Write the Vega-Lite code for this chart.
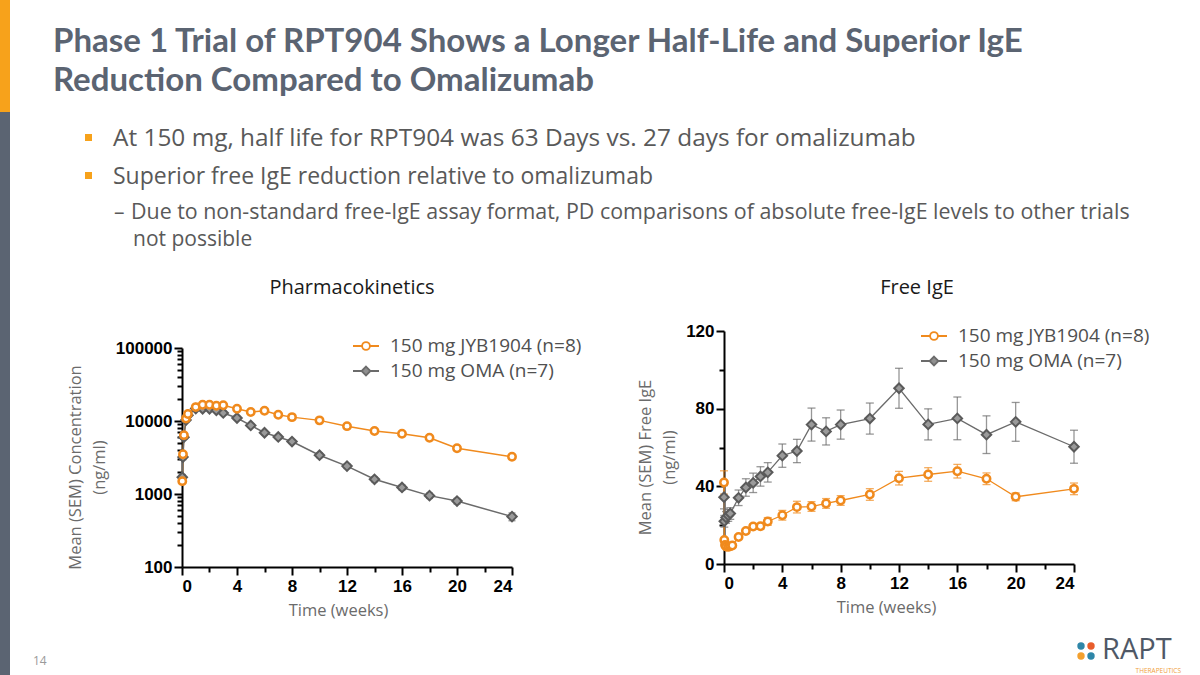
{
  "$schema": "https://vega.github.io/schema/vega-lite/v6.json",
  "width": 1200,
  "height": 675,
  "padding": 0,
  "autosize": {"type": "none"},
  "background": "white",
  "config": {
    "view": {"stroke": null},
    "font": "Open Sans",
    "axis": {
      "grid": false,
      "domainColor": "#000000",
      "domainWidth": 2,
      "tickColor": "#000000",
      "tickWidth": 2,
      "labelFont": "Liberation Sans",
      "labelFontWeight": "bold",
      "labelFontSize": 17,
      "labelColor": "#000000",
      "labelOverlap": false,
      "titleFont": "Open Sans",
      "titleFontWeight": "normal",
      "titleFontSize": 16.5,
      "titleColor": "#6b6b6b",
      "titleLineHeight": 24
    },
    "legend": {
      "orient": "none",
      "title": null,
      "labelFont": "Open Sans",
      "labelFontSize": 19,
      "labelColor": "#505050",
      "labelLimit": 400,
      "symbolSize": 676,
      "labelOffset": 10,
      "rowPadding": 1,
      "symbolStrokeWidth": 1.8
    }
  },
  "datasets": {
    "pk": [
      {"t": 0.02, "group": "150 mg JYB1904 (n=8)", "mean": 1500, "sem": 100},
      {"t": 0.07, "group": "150 mg JYB1904 (n=8)", "mean": 3500, "sem": 250},
      {"t": 0.14, "group": "150 mg JYB1904 (n=8)", "mean": 6400, "sem": 400},
      {"t": 0.29, "group": "150 mg JYB1904 (n=8)", "mean": 10800, "sem": 600},
      {"t": 0.43, "group": "150 mg JYB1904 (n=8)", "mean": 12500, "sem": 700},
      {"t": 1, "group": "150 mg JYB1904 (n=8)", "mean": 15500, "sem": 800},
      {"t": 1.5, "group": "150 mg JYB1904 (n=8)", "mean": 16700, "sem": 900},
      {"t": 2, "group": "150 mg JYB1904 (n=8)", "mean": 16700, "sem": 900},
      {"t": 2.5, "group": "150 mg JYB1904 (n=8)", "mean": 16200, "sem": 900},
      {"t": 3, "group": "150 mg JYB1904 (n=8)", "mean": 16400, "sem": 900},
      {"t": 4, "group": "150 mg JYB1904 (n=8)", "mean": 14700, "sem": 800},
      {"t": 5, "group": "150 mg JYB1904 (n=8)", "mean": 13300, "sem": 700},
      {"t": 6, "group": "150 mg JYB1904 (n=8)", "mean": 13800, "sem": 1100},
      {"t": 7, "group": "150 mg JYB1904 (n=8)", "mean": 12200, "sem": 700},
      {"t": 8, "group": "150 mg JYB1904 (n=8)", "mean": 11300, "sem": 600},
      {"t": 10, "group": "150 mg JYB1904 (n=8)", "mean": 10200, "sem": 600},
      {"t": 12, "group": "150 mg JYB1904 (n=8)", "mean": 8500, "sem": 500},
      {"t": 14, "group": "150 mg JYB1904 (n=8)", "mean": 7300, "sem": 450},
      {"t": 16, "group": "150 mg JYB1904 (n=8)", "mean": 6700, "sem": 400},
      {"t": 18, "group": "150 mg JYB1904 (n=8)", "mean": 5900, "sem": 400},
      {"t": 20, "group": "150 mg JYB1904 (n=8)", "mean": 4240, "sem": 300},
      {"t": 24, "group": "150 mg JYB1904 (n=8)", "mean": 3240, "sem": 250},
      {"t": 0.02, "group": "150 mg OMA (n=7)", "mean": 1700, "sem": 150},
      {"t": 0.07, "group": "150 mg OMA (n=7)", "mean": 3200, "sem": 250},
      {"t": 0.14, "group": "150 mg OMA (n=7)", "mean": 6000, "sem": 400},
      {"t": 0.29, "group": "150 mg OMA (n=7)", "mean": 10300, "sem": 600},
      {"t": 0.43, "group": "150 mg OMA (n=7)", "mean": 12000, "sem": 700},
      {"t": 1, "group": "150 mg OMA (n=7)", "mean": 14800, "sem": 800},
      {"t": 1.5, "group": "150 mg OMA (n=7)", "mean": 14700, "sem": 800},
      {"t": 2, "group": "150 mg OMA (n=7)", "mean": 14700, "sem": 800},
      {"t": 2.5, "group": "150 mg OMA (n=7)", "mean": 14000, "sem": 800},
      {"t": 3, "group": "150 mg OMA (n=7)", "mean": 12900, "sem": 700},
      {"t": 4, "group": "150 mg OMA (n=7)", "mean": 11000, "sem": 600},
      {"t": 5, "group": "150 mg OMA (n=7)", "mean": 8700, "sem": 500},
      {"t": 6, "group": "150 mg OMA (n=7)", "mean": 6900, "sem": 400},
      {"t": 7, "group": "150 mg OMA (n=7)", "mean": 6050, "sem": 350},
      {"t": 8, "group": "150 mg OMA (n=7)", "mean": 5230, "sem": 300},
      {"t": 10, "group": "150 mg OMA (n=7)", "mean": 3400, "sem": 250},
      {"t": 12, "group": "150 mg OMA (n=7)", "mean": 2410, "sem": 180},
      {"t": 14, "group": "150 mg OMA (n=7)", "mean": 1590, "sem": 120},
      {"t": 16, "group": "150 mg OMA (n=7)", "mean": 1230, "sem": 100},
      {"t": 18, "group": "150 mg OMA (n=7)", "mean": 950, "sem": 80},
      {"t": 20, "group": "150 mg OMA (n=7)", "mean": 800, "sem": 70},
      {"t": 24, "group": "150 mg OMA (n=7)", "mean": 490, "sem": 60}
    ],
    "ige": [
      {"t": 0, "group": "150 mg JYB1904 (n=8)", "mean": 42, "sem": 6},
      {"t": 0.02, "group": "150 mg JYB1904 (n=8)", "mean": 12.4, "sem": 1},
      {"t": 0.07, "group": "150 mg JYB1904 (n=8)", "mean": 9.8, "sem": 0.8},
      {"t": 0.14, "group": "150 mg JYB1904 (n=8)", "mean": 9.0, "sem": 0.8},
      {"t": 0.29, "group": "150 mg JYB1904 (n=8)", "mean": 8.8, "sem": 0.8},
      {"t": 0.43, "group": "150 mg JYB1904 (n=8)", "mean": 9.2, "sem": 0.8},
      {"t": 0.57, "group": "150 mg JYB1904 (n=8)", "mean": 9.5, "sem": 0.8},
      {"t": 1, "group": "150 mg JYB1904 (n=8)", "mean": 13.9, "sem": 1},
      {"t": 1.5, "group": "150 mg JYB1904 (n=8)", "mean": 17, "sem": 1.2},
      {"t": 2, "group": "150 mg JYB1904 (n=8)", "mean": 19.3, "sem": 1.3},
      {"t": 2.5, "group": "150 mg JYB1904 (n=8)", "mean": 19.4, "sem": 1.5},
      {"t": 3, "group": "150 mg JYB1904 (n=8)", "mean": 21.9, "sem": 2},
      {"t": 4, "group": "150 mg JYB1904 (n=8)", "mean": 25.1, "sem": 2.5},
      {"t": 5, "group": "150 mg JYB1904 (n=8)", "mean": 29.3, "sem": 3},
      {"t": 6, "group": "150 mg JYB1904 (n=8)", "mean": 29.6, "sem": 2.5},
      {"t": 7, "group": "150 mg JYB1904 (n=8)", "mean": 31.2, "sem": 2.5},
      {"t": 8, "group": "150 mg JYB1904 (n=8)", "mean": 32.7, "sem": 2.5},
      {"t": 10, "group": "150 mg JYB1904 (n=8)", "mean": 35.8, "sem": 3},
      {"t": 12, "group": "150 mg JYB1904 (n=8)", "mean": 44.2, "sem": 3.5},
      {"t": 14, "group": "150 mg JYB1904 (n=8)", "mean": 46.1, "sem": 3.5},
      {"t": 16, "group": "150 mg JYB1904 (n=8)", "mean": 47.8, "sem": 3.5},
      {"t": 18, "group": "150 mg JYB1904 (n=8)", "mean": 43.9, "sem": 3},
      {"t": 20, "group": "150 mg JYB1904 (n=8)", "mean": 34.6, "sem": 2},
      {"t": 24, "group": "150 mg JYB1904 (n=8)", "mean": 38.7, "sem": 3},
      {"t": 0, "group": "150 mg OMA (n=7)", "mean": 34.4, "sem": 6},
      {"t": 0.02, "group": "150 mg OMA (n=7)", "mean": 22, "sem": 3},
      {"t": 0.14, "group": "150 mg OMA (n=7)", "mean": 24, "sem": 3},
      {"t": 0.29, "group": "150 mg OMA (n=7)", "mean": 25, "sem": 3},
      {"t": 0.43, "group": "150 mg OMA (n=7)", "mean": 26, "sem": 3},
      {"t": 1, "group": "150 mg OMA (n=7)", "mean": 34.1, "sem": 4},
      {"t": 1.5, "group": "150 mg OMA (n=7)", "mean": 39.4, "sem": 4.5},
      {"t": 2, "group": "150 mg OMA (n=7)", "mean": 41.8, "sem": 5},
      {"t": 2.5, "group": "150 mg OMA (n=7)", "mean": 45.1, "sem": 5},
      {"t": 3, "group": "150 mg OMA (n=7)", "mean": 47.2, "sem": 5},
      {"t": 4, "group": "150 mg OMA (n=7)", "mean": 55.8, "sem": 6},
      {"t": 5, "group": "150 mg OMA (n=7)", "mean": 58.2, "sem": 6},
      {"t": 6, "group": "150 mg OMA (n=7)", "mean": 71.8, "sem": 8.5},
      {"t": 7, "group": "150 mg OMA (n=7)", "mean": 68.3, "sem": 7},
      {"t": 8, "group": "150 mg OMA (n=7)", "mean": 71.8, "sem": 7.5},
      {"t": 10, "group": "150 mg OMA (n=7)", "mean": 74.9, "sem": 8},
      {"t": 12, "group": "150 mg OMA (n=7)", "mean": 90.5, "sem": 10.3},
      {"t": 14, "group": "150 mg OMA (n=7)", "mean": 71.9, "sem": 8},
      {"t": 16, "group": "150 mg OMA (n=7)", "mean": 75.0, "sem": 11},
      {"t": 18, "group": "150 mg OMA (n=7)", "mean": 66.6, "sem": 9.7},
      {"t": 20, "group": "150 mg OMA (n=7)", "mean": 73.2, "sem": 10},
      {"t": 24, "group": "150 mg OMA (n=7)", "mean": 60.4, "sem": 8.5}
    ]
  },
  "layer": [
    {"data": {"values": [{}]}, "mark": {"type": "rect", "x": 0, "x2": 10, "y": 0, "y2": 112, "fill": "#F7A21B"}},
    {"data": {"values": [{}]}, "mark": {"type": "rect", "x": 0, "x2": 10, "y": 112, "y2": 675, "fill": "#5B6472"}},
    {"data": {"values": [{}]}, "mark": {"type": "text", "x": 53, "y": 52, "align": "left", "baseline": "alphabetic", "font": "Lato", "fontWeight": "bold", "fontSize": 33, "fill": "#5B6472", "text": "Phase 1 Trial of RPT904 Shows a Longer Half-Life and Superior IgE"}},
    {"data": {"values": [{}]}, "mark": {"type": "text", "x": 53, "y": 91, "align": "left", "baseline": "alphabetic", "font": "Lato", "fontWeight": "bold", "fontSize": 33, "fill": "#5B6472", "text": "Reduction Compared to Omalizumab"}},
    {"data": {"values": [{}]}, "mark": {"type": "rect", "x": 85, "x2": 92, "y": 134, "y2": 141, "fill": "#F7A21B"}},
    {"data": {"values": [{}]}, "mark": {"type": "rect", "x": 85, "x2": 92, "y": 172, "y2": 179, "fill": "#F7A21B"}},
    {"data": {"values": [{}]}, "mark": {"type": "text", "x": 113, "y": 146, "align": "left", "baseline": "alphabetic", "font": "Open Sans", "fontSize": 24.4, "fill": "#595959", "text": "At 150 mg, half life for RPT904 was 63 Days vs. 27 days for omalizumab"}},
    {"data": {"values": [{}]}, "mark": {"type": "text", "x": 113, "y": 184, "align": "left", "baseline": "alphabetic", "font": "Open Sans", "fontSize": 23, "fill": "#595959", "text": "Superior free IgE reduction relative to omalizumab"}},
    {"data": {"values": [{}]}, "mark": {"type": "text", "x": 114, "y": 219, "align": "left", "baseline": "alphabetic", "font": "Open Sans", "fontSize": 21, "fill": "#595959", "text": "–"}},
    {"data": {"values": [{}]}, "mark": {"type": "text", "x": 131, "y": 219, "align": "left", "baseline": "alphabetic", "font": "Open Sans", "fontSize": 21.4, "fill": "#595959", "text": "Due to non-standard free-IgE assay format, PD comparisons of absolute free-IgE levels to other trials"}},
    {"data": {"values": [{}]}, "mark": {"type": "text", "x": 133, "y": 246, "align": "left", "baseline": "alphabetic", "font": "Open Sans", "fontSize": 21, "fill": "#595959", "text": "not possible"}},
    {"data": {"values": [{}]}, "mark": {"type": "text", "x": 352, "y": 294, "align": "center", "baseline": "alphabetic", "font": "Open Sans", "fontSize": 20, "fill": "#1a1a1a", "text": "Pharmacokinetics"}},
    {"data": {"values": [{}]}, "mark": {"type": "text", "x": 917, "y": 294, "align": "center", "baseline": "alphabetic", "font": "Open Sans", "fontSize": 20, "fill": "#1a1a1a", "text": "Free IgE"}},
    {"data": {"values": [{}]}, "mark": {"type": "text", "x": 33, "y": 665, "align": "left", "baseline": "alphabetic", "font": "Open Sans", "fontSize": 12, "fill": "#9a9a9a", "text": "14"}},
    {"data": {"values": [{}]}, "mark": {"type": "point", "x": 1081, "y": 646, "shape": "circle", "size": 55, "filled": true, "fill": "#2E86A8", "opacity": 1}},
    {"data": {"values": [{}]}, "mark": {"type": "point", "x": 1091, "y": 646, "shape": "circle", "size": 55, "filled": true, "fill": "#E85D2C", "opacity": 1}},
    {"data": {"values": [{}]}, "mark": {"type": "point", "x": 1081, "y": 656, "shape": "circle", "size": 55, "filled": true, "fill": "#F3A02E", "opacity": 1}},
    {"data": {"values": [{}]}, "mark": {"type": "point", "x": 1091, "y": 656, "shape": "circle", "size": 55, "filled": true, "fill": "#2E86A8", "opacity": 1}},
    {"data": {"values": [{}]}, "mark": {"type": "text", "x": 1102, "y": 659, "align": "left", "baseline": "alphabetic", "font": "Open Sans", "fontSize": 29, "fill": "#4F5866", "text": "RAPT"}},
    {"data": {"values": [{}]}, "mark": {"type": "text", "x": 1181, "y": 673, "align": "right", "baseline": "alphabetic", "font": "Open Sans", "fontSize": 6.5, "fill": "#F0A040", "text": "THERAPEUTICS"}},
    {
      "data": {"name": "pk"},
      "encoding": {
        "x": {
          "field": "t", "type": "quantitative",
          "scale": {"domain": [0, 24], "range": [182, 512], "nice": false, "zero": false},
          "axis": {
            "orient": "bottom", "offset": -108,
            "values": [0, 2, 4, 6, 8, 10, 12, 14, 16, 18, 20, 22, 24],
            "labelExpr": "datum.value % 4 === 0 ? datum.label : ''",
            "tickSize": {"condition": {"test": "datum.value % 4 === 0", "value": 8}, "value": 5},
            "labelPadding": 3,
            "title": "Time (weeks)", "titleX": 338, "titlePadding": 8
          }
        },
        "y": {
          "field": "mean", "type": "quantitative",
          "scale": {"type": "log", "domain": [100, 100000], "range": [567, 348], "nice": false},
          "axis": {
            "orient": "left", "offset": -182,
            "values": [100, 200, 300, 400, 500, 600, 700, 800, 900, 1000, 2000, 3000, 4000, 5000, 6000, 7000, 8000, 9000, 10000, 20000, 30000, 40000, 50000, 60000, 70000, 80000, 90000, 100000],
            "labelExpr": "indexof([100, 1000, 10000, 100000], datum.value) >= 0 ? format(datum.value, 'd') : ''",
            "tickSize": {"condition": {"test": "indexof([100, 1000, 10000, 100000], datum.value) >= 0", "value": 8}, "value": 5},
            "labelPadding": 2,
            "title": ["Mean (SEM) Concentration", "(ng/ml)"], "titleY": 467, "titlePadding": 8
          }
        },
        "color": {
          "field": "group", "type": "nominal",
          "scale": {"domain": ["150 mg JYB1904 (n=8)", "150 mg OMA (n=7)"], "range": ["#F08A1D", "#6b6b6b"]},
          "legend": {
            "legendX": 352, "legendY": 332,
            "encode": {"symbols": {"update": {
              "shape": {"signal": "datum.value === '150 mg JYB1904 (n=8)' ? 'M-1,0H-0.32M0.32,0H1M0.3,0A0.3,0.3,0,1,1,-0.3,0A0.3,0.3,0,1,1,0.3,0Z' : 'M-1,0H-0.34M0.34,0H1M0,-0.34L0.34,0L0,0.34L-0.34,0Z'"},
              "fillOpacity": {"signal": "datum.value === '150 mg JYB1904 (n=8)' ? 0 : 0.75"},
              "strokeWidth": {"value": 1.8}
            }}}
          }
        }
      },
      "layer": [
        {"mark": {"type": "errorbar", "ticks": {"size": 7}, "thickness": 1.3, "opacity": 0.7}, "encoding": {"yError": {"field": "sem"}}},
        {"mark": {"type": "line", "strokeWidth": 1.5}, "encoding": {}},
        {"transform": [{"filter": "datum.group === '150 mg OMA (n=7)'"}], "mark": {"type": "point", "shape": "diamond", "size": 90, "filled": true, "fill": "#9a9a9a", "stroke": "#5a5a5a", "strokeWidth": 2, "opacity": 1}, "encoding": {"color": {"value": "#5a5a5a"}}},
        {"transform": [{"filter": "datum.group === '150 mg JYB1904 (n=8)'"}], "mark": {"type": "point", "shape": "circle", "size": 55, "filled": false, "fill": "#ffffff", "fillOpacity": 1, "stroke": "#F08A1D", "strokeWidth": 2.5, "opacity": 1}, "encoding": {"color": {"value": "#F08A1D"}}}
      ]
    },
    {
      "data": {"name": "ige"},
      "encoding": {
        "x": {
          "field": "t", "type": "quantitative",
          "scale": {"domain": [0, 24], "range": [724, 1074], "nice": false, "zero": false},
          "axis": {
            "orient": "bottom", "offset": -111,
            "values": [0, 2, 4, 6, 8, 10, 12, 14, 16, 18, 20, 22, 24],
            "labelExpr": "datum.value % 4 === 0 ? datum.label : ''",
            "tickSize": {"condition": {"test": "datum.value % 4 === 0", "value": 8}, "value": 5},
            "labelPadding": 3,
            "title": "Time (weeks)", "titleX": 886, "titlePadding": 8
          }
        },
        "y": {
          "field": "mean", "type": "quantitative",
          "scale": {"domain": [0, 120], "range": [564, 331], "nice": false, "zero": false},
          "axis": {
            "orient": "left", "offset": -724,
            "values": [0, 20, 40, 60, 80, 100, 120],
            "labelExpr": "datum.value % 40 === 0 ? datum.label : ''",
            "tickSize": {"condition": {"test": "datum.value % 40 === 0", "value": 8}, "value": 5},
            "labelPadding": 2,
            "title": ["Mean (SEM) Free IgE", "(ng/ml)"], "titleY": 457, "titlePadding": 8
          }
        },
        "color": {
          "field": "group", "type": "nominal",
          "scale": {"domain": ["150 mg JYB1904 (n=8)", "150 mg OMA (n=7)"], "range": ["#F08A1D", "#6b6b6b"]},
          "legend": {
            "legendX": 920, "legendY": 322,
            "encode": {"symbols": {"update": {
              "shape": {"signal": "datum.value === '150 mg JYB1904 (n=8)' ? 'M-1,0H-0.32M0.32,0H1M0.3,0A0.3,0.3,0,1,1,-0.3,0A0.3,0.3,0,1,1,0.3,0Z' : 'M-1,0H-0.34M0.34,0H1M0,-0.34L0.34,0L0,0.34L-0.34,0Z'"},
              "fillOpacity": {"signal": "datum.value === '150 mg JYB1904 (n=8)' ? 0 : 0.75"},
              "strokeWidth": {"value": 1.8}
            }}}
          }
        }
      },
      "layer": [
        {"mark": {"type": "errorbar", "ticks": {"size": 8}, "thickness": 1.3, "opacity": 0.7}, "encoding": {"yError": {"field": "sem"}}},
        {"mark": {"type": "line", "strokeWidth": 1.3}, "encoding": {}},
        {"transform": [{"filter": "datum.group === '150 mg OMA (n=7)'"}], "mark": {"type": "point", "shape": "diamond", "size": 90, "filled": true, "fill": "#9a9a9a", "stroke": "#5a5a5a", "strokeWidth": 2, "opacity": 1}, "encoding": {"color": {"value": "#5a5a5a"}}},
        {"transform": [{"filter": "datum.group === '150 mg JYB1904 (n=8)'"}], "mark": {"type": "point", "shape": "circle", "size": 55, "filled": false, "fill": "#ffffff", "fillOpacity": 1, "stroke": "#F08A1D", "strokeWidth": 2.5, "opacity": 1}, "encoding": {"color": {"value": "#F08A1D"}}}
      ]
    }
  ],
  "resolve": {
    "scale": {"x": "independent", "y": "independent", "color": "independent"},
    "axis": {"x": "independent", "y": "independent"},
    "legend": {"color": "independent"}
  }
}
